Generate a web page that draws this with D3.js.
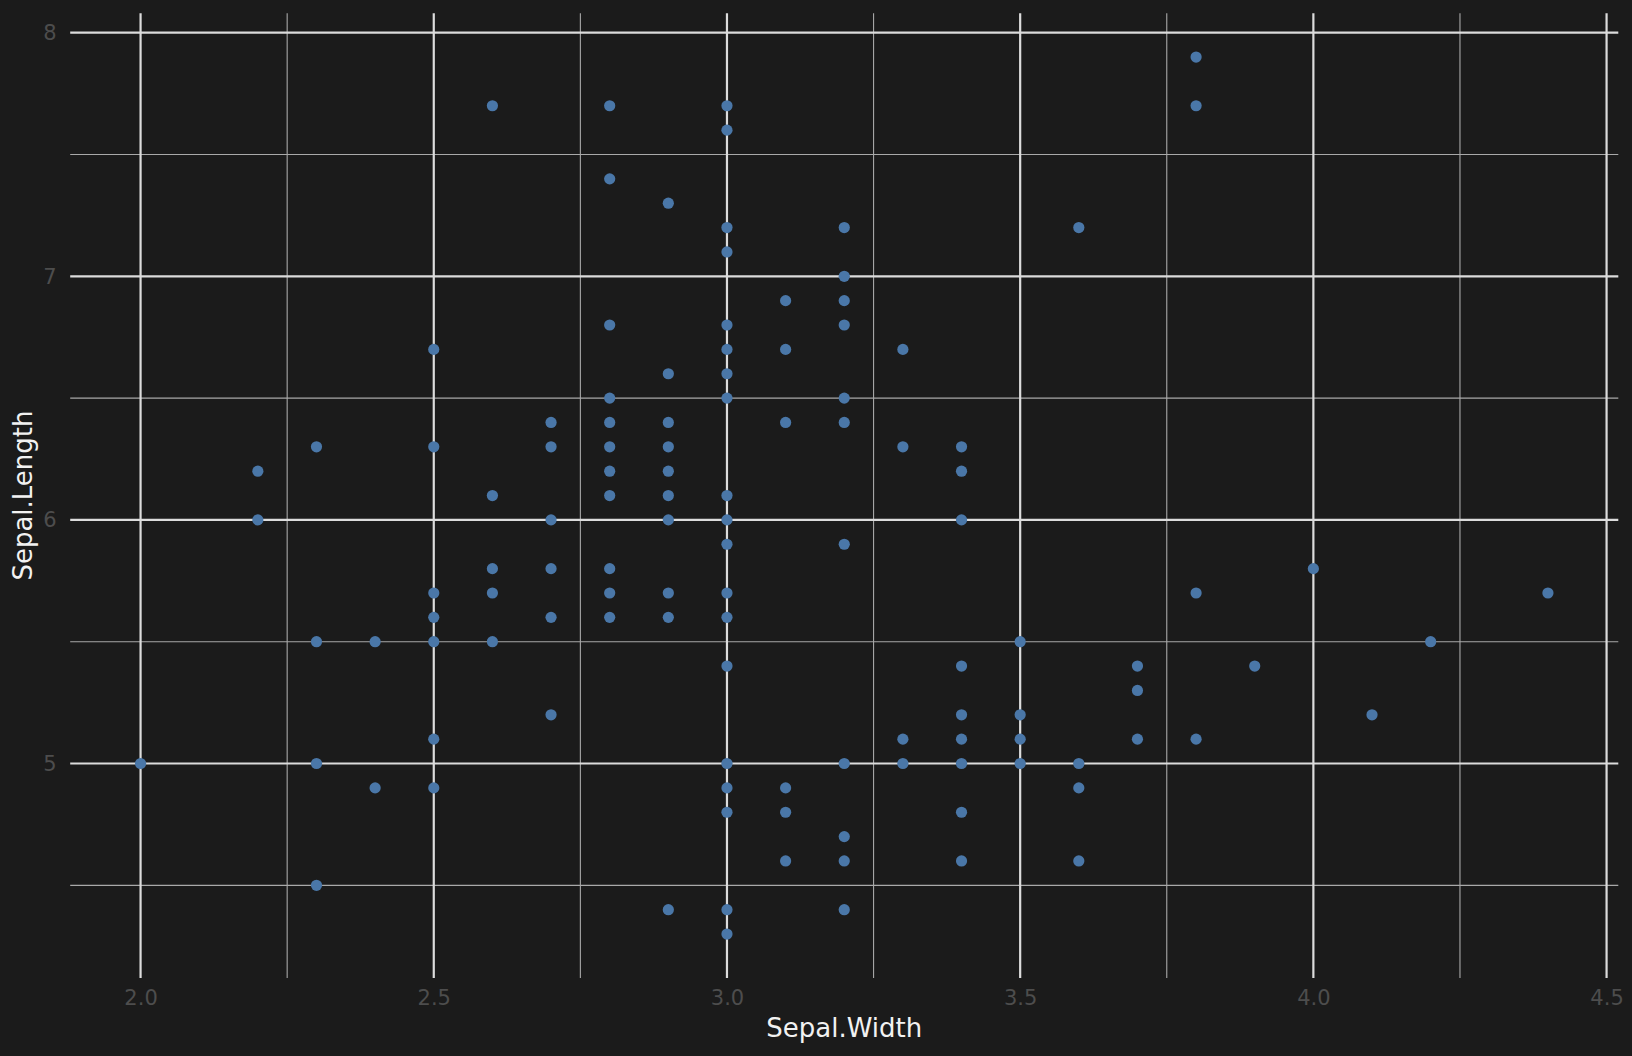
<!DOCTYPE html>
<html>
<head>
<meta charset="utf-8">
<script src="https://cdn.jsdelivr.net/npm/d3@7"></script>
<style>
  html, body { margin: 0; padding: 0; background: #1b1b1b; }
  svg { display: block; }
  text { font-family: "DejaVu Sans", sans-serif; }
</style>
</head>
<body>
<svg id="chart"></svg>
<script>
// Sepal.Width values, and the Sepal.Length values seen at each width
const widths = [2.0, 2.2, 2.3, 2.4, 2.5, 2.6, 2.7, 2.8, 2.9, 3.0, 3.1, 3.2, 3.3, 3.4, 3.5, 3.6, 3.7, 3.8, 3.9, 4.0, 4.1, 4.2, 4.4];
const lengths = [
  [5.0],
  [6.2, 6.0],
  [6.3, 5.5, 5.0, 4.5],
  [5.5, 4.9],
  [6.7, 6.3, 5.7, 5.6, 5.5, 5.1, 4.9],
  [7.7, 6.1, 5.8, 5.7, 5.5],
  [6.4, 6.3, 6.0, 5.8, 5.6, 5.2],
  [7.7, 7.4, 6.8, 6.5, 6.4, 6.3, 6.2, 6.1, 5.8, 5.7, 5.6],
  [7.3, 6.6, 6.4, 6.3, 6.2, 6.1, 6.0, 5.7, 5.6, 4.4],
  [7.7, 7.6, 7.2, 7.1, 6.8, 6.7, 6.6, 6.5, 6.1, 6.0, 5.9, 5.7, 5.6, 5.4, 5.0, 4.9, 4.8, 4.4, 4.3],
  [6.9, 6.7, 6.4, 4.9, 4.8, 4.6],
  [7.2, 7.0, 6.9, 6.8, 6.5, 6.4, 5.9, 5.0, 4.7, 4.6, 4.4],
  [6.7, 6.3, 5.1, 5.0],
  [6.3, 6.2, 6.0, 5.4, 5.2, 5.1, 5.0, 4.8, 4.6],
  [5.5, 5.2, 5.1, 5.0],
  [7.2, 5.0, 4.9, 4.6],
  [5.4, 5.3, 5.1],
  [7.9, 7.7, 5.7, 5.1],
  [5.4],
  [5.8],
  [5.2],
  [5.5],
  [5.7]
];
const xTicks = [2.0, 2.5, 3.0, 3.5, 4.0, 4.5];
const xMinor = [2.25, 2.75, 3.25, 3.75, 4.25];
const yTicks = [5, 6, 7, 8];
const yMinor = [4.5, 5.5, 6.5, 7.5];

const width = 1632;
const height = 1056;

const points = [];
widths.forEach((w, i) => {
  lengths[i].forEach(l => points.push({ w, l }));
});

const svg = d3.select("#chart")
  .attr("width", width)
  .attr("height", height);

svg.append("rect")
  .attr("width", width)
  .attr("height", height)
  .attr("fill", "#1b1b1b");

const panel = { left: 70.2, right: 1618.3, top: 13.2, bottom: 977.9 };

// ggplot style 5% expansion around the data range
const xExt = d3.extent(points, d => d.w);
const yExt = d3.extent(points, d => d.l);
const xPad = (xExt[1] - xExt[0]) * 0.05;
const yPad = (yExt[1] - yExt[0]) * 0.05;

const x = d3.scaleLinear()
  .domain([xExt[0] - xPad, xExt[1] + xPad])
  .range([panel.left, panel.right]);

const y = d3.scaleLinear()
  .domain([yExt[0] - yPad, yExt[1] + yPad])
  .range([panel.bottom, panel.top]);

const grid = svg.append("g");

// minor grid
grid.selectAll(".xminor")
  .data(xMinor)
  .enter()
  .append("line")
  .attr("x1", d => x(d)).attr("x2", d => x(d))
  .attr("y1", panel.top).attr("y2", panel.bottom)
  .attr("stroke", "#a9a9a9")
  .attr("stroke-width", 1.1);

grid.selectAll(".yminor")
  .data(yMinor)
  .enter()
  .append("line")
  .attr("x1", panel.left).attr("x2", panel.right)
  .attr("y1", d => y(d)).attr("y2", d => y(d))
  .attr("stroke", "#a9a9a9")
  .attr("stroke-width", 1.1);

// major grid
grid.selectAll(".xmajor")
  .data(xTicks)
  .enter()
  .append("line")
  .attr("x1", d => x(d)).attr("x2", d => x(d))
  .attr("y1", panel.top).attr("y2", panel.bottom)
  .attr("stroke", "#dcdcdc")
  .attr("stroke-width", 2.2);

grid.selectAll(".ymajor")
  .data(yTicks)
  .enter()
  .append("line")
  .attr("x1", panel.left).attr("x2", panel.right)
  .attr("y1", d => y(d)).attr("y2", d => y(d))
  .attr("stroke", "#dcdcdc")
  .attr("stroke-width", 2.2);

// tick labels through d3 axes, with the axis lines and ticks hidden
const xAxis = svg.append("g")
  .attr("transform", `translate(0,${panel.bottom})`)
  .call(d3.axisBottom(x).tickValues(xTicks).tickFormat(d3.format(".1f")).tickSize(0).tickPadding(27));

const yAxis = svg.append("g")
  .attr("transform", `translate(${panel.left},0)`)
  .call(d3.axisLeft(y).tickValues(yTicks).tickFormat(d3.format("d")).tickSize(0).tickPadding(13.5));

[xAxis, yAxis].forEach(a => {
  a.select(".domain").remove();
  a.selectAll("text")
    .attr("fill", "#4d4d4d")
    .style("font-size", "21px")
    .style("font-family", "'DejaVu Sans', sans-serif");
});
xAxis.selectAll("text").attr("dy", null).attr("y", 27.4);

svg.selectAll(".dot")
  .data(points)
  .enter()
  .append("circle")
  .attr("class", "dot")
  .attr("cx", d => x(d.w))
  .attr("cy", d => y(d.l))
  .attr("r", 5.6)
  .attr("fill", "#4a77a8");

svg.append("text")
  .attr("x", (panel.left + panel.right) / 2)
  .attr("y", 1036.7)
  .attr("text-anchor", "middle")
  .attr("fill", "#f2f2f2")
  .style("font-size", "26px")
  .text("Sepal.Width");

svg.append("text")
  .attr("transform", `translate(32.3,${(panel.top + panel.bottom) / 2}) rotate(-90)`)
  .attr("text-anchor", "middle")
  .attr("fill", "#f2f2f2")
  .style("font-size", "26px")
  .text("Sepal.Length");
</script>
</body>
</html>
